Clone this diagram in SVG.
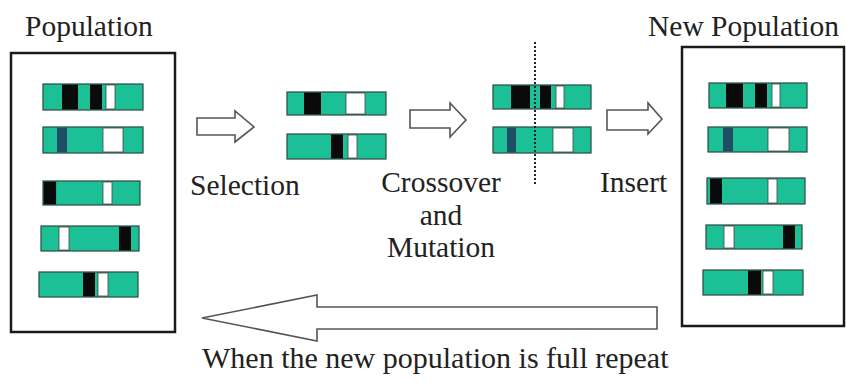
<svg xmlns="http://www.w3.org/2000/svg" width="846" height="392" viewBox="0 0 846 392">
  <style>
    .lbl { font-family: "Liberation Serif", "Times New Roman", serif; font-size: 29.5px; fill: #222; }
    .box { fill: #fff; stroke: #1a1a1a; stroke-width: 2.5; }
    .chr { fill: #1cc096; stroke: #2c4a40; stroke-width: 1.2; }
    .blk { fill: #0a0a0a; }
    .wht { fill: #ffffff; stroke: #444; stroke-width: 0.8; }
    .blu { fill: #1d4e66; }
    .arr { fill: #fff; stroke: #555; stroke-width: 1.6; stroke-linejoin: miter; }
    .cut { stroke: #222; stroke-width: 2; stroke-dasharray: 2 2; fill: none; }
  </style>

  <rect width="846" height="392" fill="#fff"/>

  <!-- Current population -->
  <g id="population">
    <text class="lbl" x="25" y="36">Population</text>
    <rect class="box" x="11" y="53" width="164" height="279"/>
    <g id="pop-c1">
      <rect class="chr" x="43" y="84" width="100" height="26"/>
      <rect class="blk" x="62" y="84.6" width="16" height="24.8"/>
      <rect class="blk" x="90" y="84.6" width="12" height="24.8"/>
      <rect class="wht" x="106" y="85" width="9" height="24"/>
    </g>
    <g id="pop-c2">
      <rect class="chr" x="43" y="127" width="100" height="26"/>
      <rect class="blu" x="57" y="127.6" width="10" height="24.8"/>
      <rect class="wht" x="103" y="128" width="20" height="24"/>
    </g>
    <g id="pop-c3">
      <rect class="chr" x="43" y="181" width="97" height="24"/>
      <rect class="blk" x="43.6" y="181.6" width="12.5" height="22.8"/>
      <rect class="wht" x="103" y="182" width="9" height="22"/>
    </g>
    <g id="pop-c4">
      <rect class="chr" x="41" y="226" width="98" height="25"/>
      <rect class="wht" x="59" y="227" width="10" height="23"/>
      <rect class="blk" x="119" y="226.6" width="12" height="23.8"/>
    </g>
    <g id="pop-c5">
      <rect class="chr" x="39" y="272" width="99" height="25"/>
      <rect class="blk" x="83" y="272.6" width="12" height="23.8"/>
      <rect class="wht" x="98" y="273" width="10" height="23"/>
    </g>
  </g>

  <!-- Selected parents -->
  <g id="selected">
    <g id="sel-c1">
      <rect class="chr" x="287" y="92" width="99" height="23"/>
      <rect class="blk" x="304" y="92.6" width="17" height="21.8"/>
      <rect class="wht" x="346" y="93" width="19" height="21"/>
    </g>
    <g id="sel-c2">
      <rect class="chr" x="287" y="134" width="99" height="25"/>
      <rect class="blk" x="331" y="134.6" width="12" height="23.8"/>
      <rect class="wht" x="348" y="135" width="9" height="23"/>
    </g>
  </g>

  <!-- Offspring after crossover and mutation -->
  <g id="offspring">
    <g id="off-c1">
      <rect class="chr" x="493" y="85" width="98" height="24"/>
      <rect class="blk" x="511" y="85.6" width="19" height="22.8"/>
      <rect class="blk" x="540" y="85.6" width="11" height="22.8"/>
      <rect class="wht" x="556" y="86" width="8" height="22"/>
    </g>
    <g id="off-c2">
      <rect class="chr" x="493" y="127" width="98" height="26"/>
      <rect class="blu" x="507" y="127.6" width="9" height="24.8"/>
      <rect class="wht" x="553" y="128" width="20" height="24"/>
    </g>
    <line class="cut" x1="535" y1="42" x2="535" y2="184"/>
  </g>

  <!-- New population -->
  <g id="new-population">
    <text class="lbl" x="648" y="36">New Population</text>
    <rect class="box" x="682" y="47" width="162" height="279"/>
    <g id="new-c1">
      <rect class="chr" x="709" y="83" width="98" height="25"/>
      <rect class="blk" x="726" y="83.6" width="17" height="23.8"/>
      <rect class="blk" x="755" y="83.6" width="12" height="23.8"/>
      <rect class="wht" x="772" y="84" width="8" height="23"/>
    </g>
    <g id="new-c2">
      <rect class="chr" x="708" y="127" width="99" height="25"/>
      <rect class="blu" x="723" y="127.6" width="10" height="23.8"/>
      <rect class="wht" x="768" y="128" width="21" height="23"/>
    </g>
    <g id="new-c3">
      <rect class="chr" x="707" y="178" width="98" height="26"/>
      <rect class="blk" x="710" y="178.6" width="12" height="24.8"/>
      <rect class="wht" x="768" y="179" width="9" height="24"/>
    </g>
    <g id="new-c4">
      <rect class="chr" x="706" y="225" width="96" height="24"/>
      <rect class="wht" x="724" y="226" width="10" height="22"/>
      <rect class="blk" x="783" y="225.6" width="12" height="22.8"/>
    </g>
    <g id="new-c5">
      <rect class="chr" x="703" y="270" width="100" height="25"/>
      <rect class="blk" x="748" y="270.6" width="13" height="23.8"/>
      <rect class="wht" x="763" y="271" width="10" height="23"/>
    </g>
  </g>

  <!-- Step labels -->
  <g id="labels">
    <text class="lbl" x="190" y="195">Selection</text>
    <text class="lbl" x="441" y="192" text-anchor="middle">Crossover</text>
    <text class="lbl" x="441" y="225" text-anchor="middle">and</text>
    <text class="lbl" x="441" y="257" text-anchor="middle">Mutation</text>
    <text class="lbl" x="600" y="192">Insert</text>
    <text class="lbl" x="202" y="368" style="font-size:30px">When the new population is full repeat</text>
  </g>

  <!-- Block arrows between stages -->
  <g id="connectors">
    <polygon class="arr" points="197,118 235,118 235,111 254,127 235,142 235,135 197,135"/>
    <polygon class="arr" points="410,110 450,110 450,103 466,120 450,137 450,128 410,128"/>
    <polygon class="arr" points="607,110 648,110 648,103 662,119 648,134 648,130 607,130"/>
    <polygon class="arr" points="657,307 317,307 317,295 202,318 317,341 317,329 657,329"/>
  </g>
</svg>
